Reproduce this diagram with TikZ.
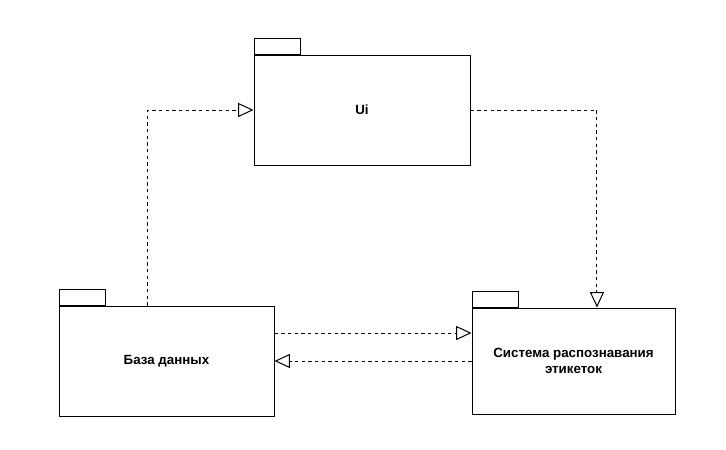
\documentclass[tikz,border=0pt]{standalone}
\usepackage{fontspec}
\setmainfont{Liberation Sans}
\usetikzlibrary{arrows.meta,positioning}

\begin{document}
\begin{tikzpicture}[
    x=0.75pt,y=-0.75pt,
    line width=0.75pt,
    package node/.style={draw,fill=white,inner sep=2pt,align=center,
      font=\fontsize{10}{12.5}\selectfont\bfseries},
    tab node/.style={draw,fill=white,minimum width=34.5pt,minimum height=12pt,
      inner sep=0pt,anchor=south west},
    depend/.style={dash pattern=on 2.5pt off 2.5pt,
      -{Triangle[open,length=11.5pt,width=10.5pt]}}]

  \useasboundingbox (0,0) rectangle (726,450);

  \node[tab node] (UiTab) at (254,55) {};
  \node[package node,minimum width=162pt,minimum height=82.5pt] (Ui) at (362,110) {Ui};
  \node[tab node] (DbTab) at (59,306) {};
  \node[package node,minimum width=161.25pt,minimum height=82.5pt] (Db) at (166.5,361) {База данных};
  \node[tab node] (SysTab) at (472,308) {};
  \node[package node,minimum width=152.25pt,minimum height=79.5pt] (Sys) at (573.5,361) {Система распознавания\\этикеток};

  \draw[depend] ([xshift=-13.9pt]Db.north) |- (Ui.west);
  \draw[depend] (Ui.east) -| ([xshift=17.6pt]Sys.north);
  \draw[depend] ([yshift=21pt]Db.east) -- ([yshift=21pt]Db.east -| Sys.west);
  \draw[depend] (Sys.west) -- (Db.east);
\end{tikzpicture}
\end{document}
